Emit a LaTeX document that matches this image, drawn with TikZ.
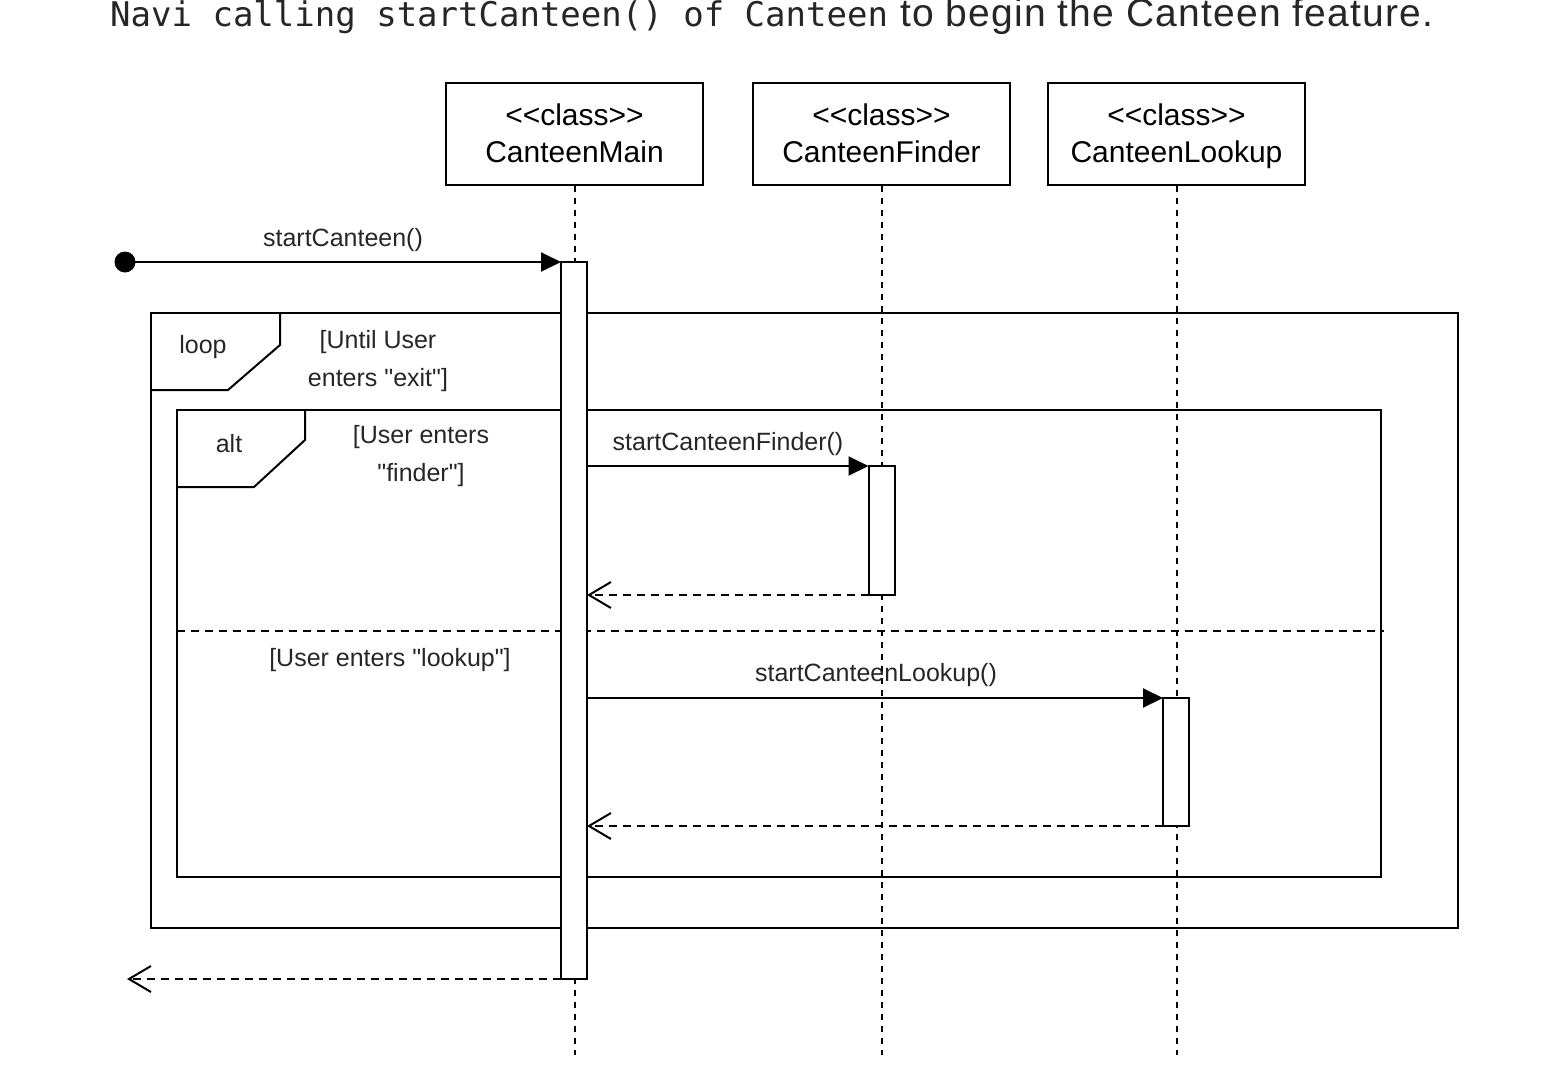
\documentclass[tikz,border=0pt]{standalone}
\usepackage{fontspec}
\setmainfont{Liberation Sans}[Ligatures=TeXOff]
\setmonofont{DejaVu Sans Mono}[Ligatures=TeXOff]
\newfontfamily\capsans{Liberation Sans}[Ligatures=TeXOff, LetterSpace=3]
\usetikzlibrary{arrows.meta}
\tikzset{
  cls/.style={draw, line width=2pt, minimum width=257pt, minimum height=102pt, align=center,
    font=\fontsize{30}{37}\selectfont, inner sep=0pt},
  clstext/.style={align=center, font=\fontsize{30}{37}\selectfont, inner sep=0pt},
  life/.style={line width=2pt, dash pattern=on 6pt off 6pt},
  actbar/.style={draw, fill=white, line width=2pt, minimum width=26pt, inner sep=0pt, outer sep=0pt},
  frame/.style={draw, line width=2pt, inner sep=0pt, outer sep=0pt},
  msg/.style={line width=2pt, -{Triangle[length=20pt,width=19pt]}},
  ret/.style={line width=2pt, dash pattern=on 8pt off 6pt, -{Straight Barb[length=22pt,width=26pt,line width=2pt]}},
  lbl/.style={font=\fontsize{25}{38}\selectfont, inner sep=0pt, text=black!85},
  sep/.style={line width=2pt, dash pattern=on 8pt off 6pt},
}
\begin{document}
\begin{tikzpicture}[x=1pt,y=-1pt]
\useasboundingbox (0,0) rectangle (1548,1082);
% caption (cut at the top, as in the reference)
\node[anchor=base west, inner sep=0pt, text=black!85] (cap) at (110,26)
  {\fontsize{34}{40}\selectfont\ttfamily Navi calling startCanteen() of Canteen\fontsize{39}{40}\selectfont\capsans\ to begin the Canteen feature.};
% frames
\node[frame, minimum width=1307pt, minimum height=615pt] (loopf) at (804.5,620.5) {};
\draw[line width=2pt] (loopf.north west) ++(129,0) coordinate (lt1) -- ++(0,32) -- ++(-52,45) coordinate (lt2) -- (loopf.west |- lt2);
\node[lbl] (looplbl) at (203,347) {loop};
\node[lbl, align=center] (loopguard) at (378,361) {[Until User\\enters "exit"]};
\node[frame, minimum width=1204pt, minimum height=467pt] (altf) at (779,643.5) {};
\draw[line width=2pt] (altf.north west) ++(128,0) coordinate (at1) -- ++(0,30) -- ++(-51,47) coordinate (at2) -- (altf.west |- at2);
\node[lbl] (altlbl) at (229,444) {alt};
\node[lbl, align=center] (altguard1) at (421,456) {[User enters\\"finder"]};
\coordinate (sepL) at (177,631);
\coordinate (sepR) at (1384,631);
\draw[sep] (sepL) -- (sepR);
\node[lbl] (altguard2) at (390,660) {[User enters "lookup"]};
% classes
\node[cls] (cm) at (574.5,134) {};
\node[cls] (cf) at (881.5,134) {};
\node[cls] (cl) at (1176.5,134) {};
\node[clstext] (cmt) at (574.5,139) {<\kern0pt<class>\kern0pt>\\CanteenMain\strut};
\node[clstext] (cft) at (881.5,139) {<\kern0pt<class>\kern0pt>\\CanteenFinder\strut};
\node[clstext] (clt) at (1176.5,139) {<\kern0pt<class>\kern0pt>\\CanteenLookup\strut};
\coordinate (cmEnd) at (574.5,1055);
\coordinate (cfEnd) at (881.5,1055);
\coordinate (clEnd) at (1176.5,1055);
\draw[life] (cm.south) -- (cmEnd);
\draw[life] (cf.south) -- (cfEnd);
\draw[life] (cl.south) -- (clEnd);
% activations
\node[actbar, minimum height=717pt] (am) at (574,620.5) {};
\node[actbar, minimum height=129pt] (af) at (881.5,530.5) {};
\node[actbar, minimum height=128pt] (al) at (1176,762) {};
% start
\node[circle, fill=black, minimum size=21pt, inner sep=0pt] (start) at (125,262) {};
\draw[msg] (start.center) -- (am.north west);
\node[lbl] (l0) at (343,240) {startCanteen()};
\draw[msg] (am.east |- af.north) -- (af.north west);
\node[lbl] (l1) at (728,444) {startCanteenFinder()};
\draw[ret] (af.south west) -- (am.east |- af.south);
\draw[msg] (am.east |- al.north) -- (al.north west);
\node[lbl] (l2) at (876,675) {startCanteenLookup()};
\draw[ret] (al.south west) -- (am.east |- al.south);
\coordinate (endRet) at (127,979);
\draw[ret] (am.south west) -- (endRet);
\end{tikzpicture}
\end{document}
